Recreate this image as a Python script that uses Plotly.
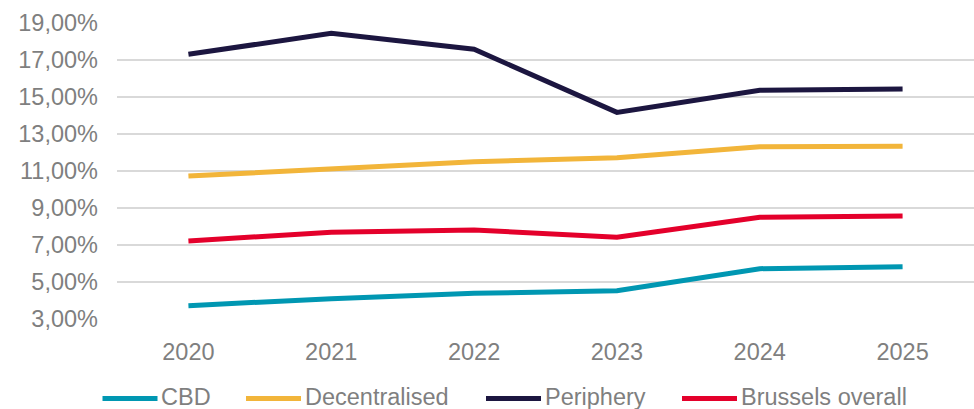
import plotly.graph_objects as go

years = ["2020", "2021", "2022", "2023", "2024", "2025"]
cbd = [3.72, 4.10, 4.39, 4.53, 5.72, 5.83]
decentralised = [10.73, 11.11, 11.50, 11.72, 12.31, 12.34]
periphery = [17.31, 18.44, 17.58, 14.17, 15.36, 15.43]
brussels = [7.22, 7.69, 7.81, 7.42, 8.50, 8.57]

series_names = ["CBD", "Decentralised", "Periphery", "Brussels overall"]
series_values = [cbd, decentralised, periphery, brussels]
series_colors = ["#0097B2", "#F2B53A", "#1C1640", "#E4002B"]

y_ticks = [3, 5, 7, 9, 11, 13, 15, 17, 19]
y_labels = [f"{v},00%" for v in y_ticks]

W, H = 974, 409
L, R, T, B = 117, 0, 23, 90
PW, PH = W - L - R, H - T - B

def px_x(px):
    return (px - L) / PW

def px_y(py):
    return (H - B - py) / PH

fig = go.Figure()
for name, vals, col in zip(series_names, series_values, series_colors):
    fig.add_trace(go.Scatter(x=years, y=vals, name=name, mode="lines",
                             line=dict(color=col, width=5), showlegend=False,
                             hoverinfo="skip"))

grey = "#7F7F7F"
fsize = 23.5

# manual legend (pixel positions of line samples)
legend_line_starts = [102.5, 246, 486, 682]
legend_line_len = 55
legend_y = 398.5
for name, col, x0 in zip(series_names, series_colors, legend_line_starts):
    fig.add_shape(type="line", xref="paper", yref="paper",
                  x0=px_x(x0), x1=px_x(x0 + legend_line_len),
                  y0=px_y(legend_y), y1=px_y(legend_y),
                  line=dict(color=col, width=5))
    fig.add_annotation(xref="paper", yref="paper",
                       x=px_x(x0 + legend_line_len + 1.5), y=px_y(legend_y - 1.5),
                       xanchor="left", yanchor="middle", showarrow=False,
                       text=name, font=dict(size=fsize, color=grey))

fig.update_layout(
    width=W, height=H,
    margin=dict(l=L, r=R, t=T, b=B, autoexpand=False),
    paper_bgcolor="white", plot_bgcolor="white",
    font=dict(family="Liberation Sans, Arial, sans-serif", size=fsize, color=grey),
    showlegend=False,
    hovermode=False,
    xaxis=dict(type="category", range=[-0.5, 5.5], showgrid=False, showline=False,
               zeroline=False, ticks="", automargin=False,
               ticklabelstandoff=16, tickfont=dict(size=fsize, color=grey)),
    yaxis=dict(range=[3, 19], tickvals=y_ticks, ticktext=y_labels,
               showgrid=True, gridcolor="#D9D9D9", gridwidth=1.5,
               zeroline=False, showline=False, ticks="", automargin=False,
               ticklabelstandoff=18, tickfont=dict(size=fsize, color=grey)),
)

fig.write_html("out.html", config={"displayModeBar": False},
               post_script="document.body.style.margin='0';document.body.style.overflow='hidden';")
